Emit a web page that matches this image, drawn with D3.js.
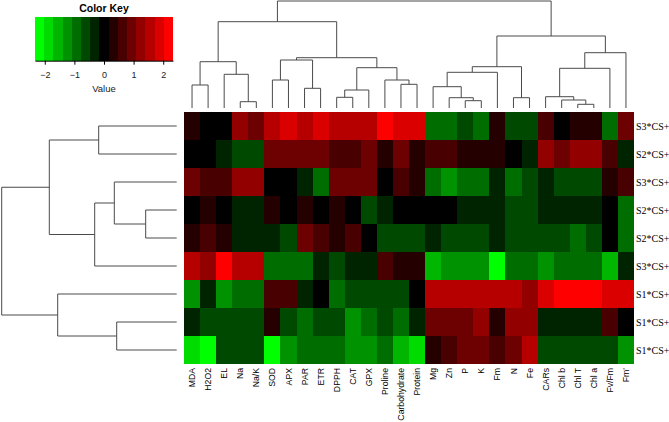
<!DOCTYPE html>
<html>
<head>
<meta charset="utf-8">
<script src="https://cdn.jsdelivr.net/npm/d3@7"></script>
<style>
  body { margin: 0; background: #fff; }
  svg { display: block; }
</style>
</head>
<body>
<div class="container"></div>
<script>
const colLabels = ['MDA', 'H2O2', 'EL', 'Na', 'Na/K', 'SOD', 'APX', 'PAR', 'ETR', 'DPPH', 'CAT', 'GPX',
    'Proline', 'Carbohydrate', 'Protein', 'Mg', 'Zn', 'P', 'K', 'Fm', 'N', 'Fe', 'CARs', 'Chl b',
    'Chl T', 'Chl a', 'Fv/Fm', "Fm'"]

const rowLabels = ['S3*CS+', 'S2*CS+', 'S3*CS+', 'S2*CS+', 'S2*CS+', 'S3*CS+', 'S1*CS+', 'S1*CS+', 'S1*CS+']

// scaled values (z-scores), one row per treatment, in the order drawn
const values = [
    [0.31, 0.04, -0.02, 1.22, 0.95, 1.57, 1.88, 1.52, 1.90, 1.55, 1.60, 1.53, 2.21, 1.84, 1.87, -0.93, -0.97, -0.61, -0.92, 0.29, -0.64, -0.60, 0.63, 0.03, 0.33, 0.30, -0.95, 0.91],
    [0.02, -0.03, -0.30, -0.62, -0.65, 0.93, 0.96, 0.90, 0.94, 0.62, 0.64, 0.92, 0.28, 0.97, 0.34, 0.61, 0.66, 0.31, 0.27, 0.33, 0.01, -0.32, 1.24, 0.98, 1.27, 1.22, 0.60, -0.29],
    [0.92, 0.63, 0.58, 1.26, 1.23, -0.04, 0.06, -0.31, -0.94, 0.95, 0.91, 0.96, 0.02, 0.64, 0.30, -0.93, -1.25, -0.96, -0.91, -0.33, -0.95, -0.62, -0.28, -0.63, -0.60, -0.65, 0.32, 0.59],
    [0.03, 0.30, -0.05, -0.32, -0.29, 0.34, 0.01, 0.28, -0.02, 0.31, 0.04, -0.61, -0.30, 0.02, -0.06, 0.05, -0.01, -0.33, -0.27, -0.31, -0.64, -0.59, -0.32, -0.28, -0.30, -0.34, 0.03, -0.92],
    [0.29, 0.62, 0.33, -0.30, -0.27, -0.33, -0.63, 0.94, 0.60, 0.32, 0.65, -0.03, -0.61, -0.64, -0.60, -0.31, -0.62, -0.65, -0.59, -0.29, -0.63, -0.61, -0.64, -0.60, -0.96, -0.62, 0.02, -0.93],
    [1.56, 1.21, 2.24, 1.58, 1.54, -0.94, -0.91, -0.97, -0.30, -0.62, -0.33, -0.28, 0.61, 0.30, 0.33, -1.56, -1.24, -1.27, -1.22, -2.25, -0.95, -0.92, -1.26, -0.93, -0.97, -0.94, -1.58, -0.31],
    [-1.25, -0.31, -1.22, -0.94, -0.90, 0.63, 0.60, -0.32, 0.01, -0.92, -0.61, -0.64, -0.60, -0.63, -0.02, 1.55, 1.58, 1.53, 1.56, 1.57, 1.54, 1.24, 1.87, 2.23, 2.19, 2.21, 1.85, 1.89],
    [-0.31, -0.62, -0.60, -0.64, -0.61, 0.30, -0.63, -0.95, -0.65, -0.62, -1.25, -0.93, -0.59, -0.91, -0.33, 0.94, 0.92, 0.96, 1.23, 0.32, 1.26, 1.22, -0.30, -0.32, -0.29, -0.31, 0.62, -0.01],
    [-1.86, -2.20, -0.63, -0.60, -0.64, -2.23, -1.24, -0.93, -0.96, -0.92, -1.27, -1.23, -0.95, -1.57, -1.88, 0.31, 0.64, 0.93, 0.97, 0.62, 0.94, 1.56, -0.61, -0.63, -0.60, -0.62, -0.64, -1.25]
]

// hclust style merges: negative = leaf (1-based), positive = earlier merge (1-based), then height
const colMerges = [
    [-4, -5, 6.3], [-25, -26, 3.7], [-18, -19, 7.3], [-24, 2, 8], [-17, 3, 10.3],
    [-21, -22, 10.3], [-10, -11, 10.7], [-23, 4, 11.3], [7, -12, 18], [-8, -9, 19.7],
    [-16, 5, 21.3], [-1, -2, 23], [-14, -15, 23.7], [-6, -7, 28], [-13, 13, 28],
    [-3, 1, 33.7], [11, -20, 35.7], [8, -27, 39.7], [9, 15, 40.3], [17, 6, 41.3],
    [12, 16, 46.3], [14, 10, 48], [22, 19, 50.3], [18, -28, 55.3], [20, 24, 72],
    [21, 23, 86.3], [26, 25, 107]
]

const rowMerges = [
    [-4, -5, 31], [-8, -9, 60], [-3, 1, 62.4], [-1, -2, 78],
    [3, -6, 82], [-7, 2, 119], [4, 5, 127.4], [7, 6, 175]
]

const keyTicks = [-2, -1, 0, 1, 2]
const keyRange = [-2.33, 2.33]

const width = 669, height = 422
const heat = {left: 184, right: 634, top: 112, bottom: 364}

const svg = d3.select('.container')
    .append('svg')
    .attr('width', width)
    .attr('height', height)

const colors = d3.quantize(d3.piecewise(d3.interpolateRgb, ['#00ff00', '#000000', '#ff0000']), 15)
const color = d3.scaleQuantize().domain(keyRange).range(colors)

const xScale = d3.scaleBand().domain(d3.range(colLabels.length)).range([heat.left, heat.right])
const yScale = d3.scaleBand().domain(d3.range(rowLabels.length)).range([heat.top, heat.bottom])

// heatmap cells
const cells = values.flatMap((row, i) => row.map((v, j) => ({row: i, col: j, value: v})))

svg.append('g')
    .attr('shape-rendering', 'crispEdges')
    .selectAll('rect')
    .data(cells)
    .enter()
    .append('rect')
    .attr('x', d => xScale(d.col))
    .attr('y', d => yScale(d.row))
    .attr('width', xScale.bandwidth())
    .attr('height', yScale.bandwidth())
    .attr('fill', d => color(d.value))

// dendrograms
const dendroPaths = (merges, leafPos, hScale, vertical) => {
    const nodes = []
    const get = k => k < 0 ? {pos: leafPos(-k - 1), h: 0} : nodes[k - 1]
    const pt = (pos, h) => vertical ? [pos, hScale(h)] : [hScale(h), pos]
    const out = []
    merges.forEach(([a, b, h]) => {
        const na = get(a), nb = get(b)
        out.push([pt(na.pos, na.h), pt(na.pos, h), pt(nb.pos, h), pt(nb.pos, nb.h)])
        nodes.push({pos: (na.pos + nb.pos) / 2, h})
    })
    return out
}

const colH = d3.scaleLinear().domain([0, 107]).range([108, 1])
const rowH = d3.scaleLinear().domain([0, 175]).range([176.7, 1.7])

const colTree = dendroPaths(colMerges, i => xScale(i) + xScale.bandwidth() / 2, colH, true)
const rowTree = dendroPaths(rowMerges, i => yScale(i) + yScale.bandwidth() / 2, rowH, false)

svg.append('g')
    .selectAll('path')
    .data(colTree.concat(rowTree))
    .enter()
    .append('path')
    .attr('d', d3.line())
    .attr('fill', 'none')
    .attr('stroke', '#4a4a4a')
    .attr('stroke-width', 1)

// row labels
svg.append('g')
    .selectAll('text')
    .data(rowLabels)
    .enter()
    .append('text')
    .attr('x', heat.right + 2)
    .attr('y', (d, i) => yScale(i) + yScale.bandwidth() / 2)
    .attr('dy', '0.35em')
    .style('font-family', '"Liberation Serif", "Times New Roman", serif')
    .style('font-size', '10px')
    .text(d => d)

// column labels
svg.append('g')
    .selectAll('text')
    .data(colLabels)
    .enter()
    .append('text')
    .attr('transform', (d, i) => `translate(${xScale(i) + xScale.bandwidth() / 2},${heat.bottom + 4}) rotate(-90)`)
    .attr('dy', '0.35em')
    .attr('text-anchor', 'end')
    .style('font-family', '"Liberation Sans", Arial, sans-serif')
    .style('font-size', '8.7px')
    .text(d => d)

// color key
const keyX = d3.scaleLinear().domain(keyRange).range([35, 173])
const keyTop = 17, keyBottom = 60.7

svg.append('g')
    .attr('shape-rendering', 'crispEdges')
    .selectAll('rect')
    .data(colors)
    .enter()
    .append('rect')
    .attr('x', c => keyX(color.invertExtent(c)[0]))
    .attr('y', keyTop)
    .attr('width', c => keyX(color.invertExtent(c)[1]) - keyX(color.invertExtent(c)[0]) + 0.3)
    .attr('height', keyBottom - keyTop)
    .attr('fill', c => c)

const keyAxis = svg.append('g')
    .attr('transform', `translate(0,${keyBottom})`)
    .call(d3.axisBottom(keyX).tickValues(keyTicks).tickFormat(d3.format('d'))
        .tickSize(4).tickSizeOuter(0).tickPadding(7))

keyAxis.selectAll('text')
    .style('font-family', '"Liberation Sans", Arial, sans-serif')
    .style('font-size', '9px')
    .attr('fill', '#222')

svg.append('text')
    .attr('x', 104)
    .attr('y', 11.5)
    .attr('text-anchor', 'middle')
    .style('font-family', '"Liberation Sans", Arial, sans-serif')
    .style('font-size', '10.5px')
    .style('font-weight', 'bold')
    .text('Color Key')

svg.append('text')
    .attr('x', 104)
    .attr('y', 92)
    .attr('text-anchor', 'middle')
    .style('font-family', '"Liberation Sans", Arial, sans-serif')
    .style('font-size', '9.5px')
    .attr('fill', '#222')
    .text('Value')
</script>
</body>
</html>
